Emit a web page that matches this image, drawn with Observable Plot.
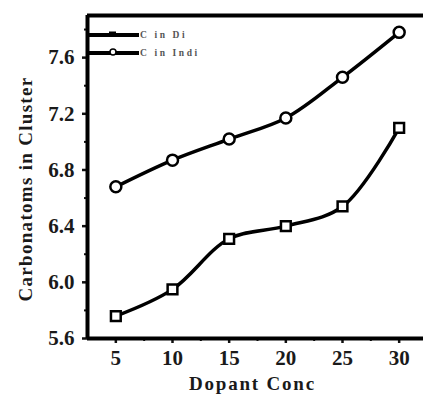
<!DOCTYPE html>
<html><head><meta charset="utf-8">
<script src="https://cdn.jsdelivr.net/npm/d3@7"></script>
<script src="https://cdn.jsdelivr.net/npm/@observablehq/plot@0.6"></script>
<style>
html,body{margin:0;padding:0;background:#fff;}
body{width:423px;height:403px;overflow:hidden;}
</style>
</head><body><div id="chart"></div>
<script>
const conc = [5, 10, 15, 20, 25, 30];
const cInDi = [5.76, 5.95, 6.31, 6.40, 6.54, 7.10];
const cInIndi = [6.68, 6.87, 7.02, 7.17, 7.46, 7.78];
const seriesNames = ["C in Di", "C in Indi"];
const xTicks = [5, 10, 15, 20, 25, 30];
const xMinorTicks = [7.5, 12.5, 17.5, 22.5, 27.5];
const yTicks = [5.6, 6.0, 6.4, 6.8, 7.2, 7.6];
const yMinorTicks = [5.8, 6.2, 6.6, 7.0, 7.4, 7.8];
const xDomain = [2.5, 32.5];
const yDomain = [5.6, 7.9];
const xLabel = "Dopant Conc";
const yLabel = "Carbonatoms in Cluster";

const di = conc.map((c, i) => ({conc: c, value: cInDi[i]}));
const indi = conc.map((c, i) => ({conc: c, value: cInIndi[i]}));

const font = "'Liberation Serif', 'Times New Roman', serif";

const chart = Plot.plot({
  width: 427,
  height: 403,
  marginLeft: 87,
  marginRight: 0,
  marginTop: 15,
  marginBottom: 65,
  style: {fontFamily: font, color: "#111", background: "#fff", overflow: "visible", maxWidth: "none"},
  x: {domain: xDomain, axis: null},
  y: {domain: yDomain, axis: null},
  marks: [
    Plot.axisX(xTicks, {tickSize: 5, tickPadding: 7, strokeWidth: 2.5, fontSize: 21, fontWeight: "bold", fill: "#1a1a1a", label: null}),
    Plot.axisX(xMinorTicks, {tickSize: 3, strokeWidth: 2, tickFormat: () => "", label: null}),
    Plot.axisY(yTicks, {tickSize: 5, tickPadding: 8, strokeWidth: 2.5, fontSize: 21, fontWeight: "bold", fill: "#1a1a1a", tickFormat: d => d.toFixed(1), label: null}),
    Plot.axisY(yMinorTicks, {tickSize: 3, strokeWidth: 2, tickFormat: () => "", label: null}),
    Plot.ruleX([xDomain[0]], {strokeWidth: 4, stroke: "#000"}),
    Plot.ruleY([yDomain[0]], {strokeWidth: 4, stroke: "#000"}),
    Plot.ruleY([yDomain[1]], {strokeWidth: 4, stroke: "#000"}),
    Plot.line(di, {x: "conc", y: "value", curve: "catmull-rom", stroke: "#000", strokeWidth: 3.5}),
    Plot.line(indi, {x: "conc", y: "value", curve: "catmull-rom", stroke: "#000", strokeWidth: 3.5}),
    Plot.dot(di, {x: "conc", y: "value", symbol: "square", r: 5.5, fill: "#fff", stroke: "#000", strokeWidth: 2.5}),
    Plot.dot(indi, {x: "conc", y: "value", symbol: "circle", r: 5.5, fill: "#fff", stroke: "#000", strokeWidth: 2.5}),
    Plot.text([xLabel], {frameAnchor: "bottom", textAnchor: "middle", dx: -5, dy: 51, fontSize: 19, fontWeight: "bold", fill: "#1a1a1a"}),
    Plot.text([yLabel], {frameAnchor: "left", textAnchor: "middle", rotate: -90, dx: -62, dy: 12, fontSize: 19, fontWeight: "bold", fill: "#1a1a1a"})
  ]
});

const svg = d3.select(chart);
svg.selectAll("text").filter(function(){ return this.textContent === xLabel; }).style("letter-spacing", "1.8px");
svg.selectAll("text").filter(function(){ return this.textContent === yLabel; }).style("letter-spacing", "1.3px");

// legend (top-left inside frame)
const x0 = 87, yRow = [35, 53];
const lg = svg.append("g").attr("text-anchor", "start");
seriesNames.forEach((name, i) => {
  const y = yRow[i];
  lg.append("line").attr("x1", x0).attr("x2", x0 + 52).attr("y1", y).attr("y2", y)
    .attr("stroke", "#000").attr("stroke-width", 4);
  if (i === 0) {
    lg.append("rect").attr("x", x0 + 22).attr("y", y - 3.5).attr("width", 7).attr("height", 5)
      .attr("fill", "#000");
  } else {
    lg.append("circle").attr("cx", x0 + 26).attr("cy", y - 1).attr("r", 3)
      .attr("fill", "#fff").attr("stroke", "#000").attr("stroke-width", 1.5);
  }
  lg.append("text").attr("x", x0 + 53).attr("y", y).attr("dy", "0.35em")
    .attr("text-anchor", "start")
    .attr("font-size", 9.5).attr("font-weight", "bold").attr("fill", "#555")
    .style("letter-spacing", "2.6px").style("font-family", font).text(name);
});

document.getElementById("chart").appendChild(chart);
</script>
</body></html>
